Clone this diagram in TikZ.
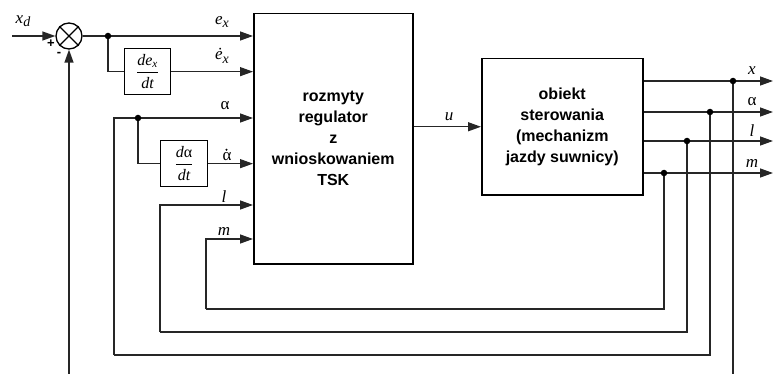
\documentclass[tikz,border=0pt]{standalone}
\usepackage{amsmath}
\usepackage{fontspec}
\setmainfont{Liberation Serif}
\newfontfamily\arialf{Liberation Sans}
\usetikzlibrary{arrows.meta,calc}
\newcommand{\sbs}[1]{\raisebox{-3.5pt}{\fontsize{14}{14}\selectfont\itshape #1}}
\begin{document}
\begin{tikzpicture}[x=1pt,y=-1pt,
  wire/.style={line width=1.3pt, draw=black!85},
  arr/.style={wire,-{Triangle[length=13pt,width=9pt]}},
  blk/.style={draw=black, line width=1.5pt, anchor=north west, inner sep=0pt},
  dblk/.style={draw=black, line width=1.3pt, anchor=north west, inner sep=0pt, font=\fontsize{16}{18}\selectfont\itshape},
  jdot/.style={circle, fill=black, inner sep=0pt, minimum size=6.5pt},
  lbl/.style={font=\fontsize{17}{17}\selectfont\itshape, inner sep=0pt},
  big/.style={font=\arialf\bfseries\fontsize{16}{21}\selectfont, align=center, inner sep=0pt},
  sgn/.style={font=\arialf\bfseries\fontsize{13}{13}\selectfont, inner sep=0pt}
]
\useasboundingbox (0,0) rectangle (773,374);

% blocks
\node[blk, minimum width=159pt, minimum height=250pt] (reg) at (253,13) {};
\node[big] (regtxt) at (reg.center) {rozmyty\\regulator\\z\\wnioskowaniem\\TSK};
\node[blk, minimum width=161pt, minimum height=136pt] (plant) at (481,58) {};
\node[big] (planttxt) at (plant.center) {obiekt\\sterowania\\(mechanizm\\jazdy suwnicy)};
\node[dblk, minimum width=46pt, minimum height=46pt] (d1) at (124,48)
  {$\dfrac{\text{de}_{\text{x}}}{\text{dt}}$};
\node[dblk, minimum width=47pt, minimum height=46pt] (d2) at (160,140)
  {$\dfrac{\text{d\upshape α}}{\text{dt}}$};

% summing junction
\node[circle, draw=black, line width=1.3pt, minimum size=26pt, inner sep=0pt] (sum) at (69,36) {};
\draw[line width=1.3pt] (sum.north west) -- (sum.south east) (sum.north east) -- (sum.south west);
\node[sgn] (plus) at (51,44) {+};
\node[sgn] (minus) at (59,54) {-};

% coordinates
\coordinate (xin) at (12,36);
\coordinate (fb) at (69,374);
\coordinate (j1) at (108,36);
\coordinate (da) at (138,118);
\coordinate (ia) at (253,118);
\coordinate (il) at (253,205);
\coordinate (im) at (253,239);
\coordinate (ba) at (114,355);
\coordinate (bl) at (160,332);
\coordinate (bm) at (206,309);
\coordinate (jx) at (733,81);
\coordinate (ja) at (710,112);
\coordinate (jl) at (687,141);
\coordinate (jm) at (664,173);
\coordinate (tx) at (773,81);
\coordinate (ta) at (773,112);
\coordinate (tl) at (773,141);
\coordinate (tm) at (773,173);
\coordinate (xend) at (733,374);

% input side
\draw[arr] (xin) -- (sum.west);
\draw[arr] (fb) -- (sum.south);
\draw[arr] (sum.east) -- (sum.east -| reg.west);
\draw[wire] (j1) |- (d1.west);
\draw[arr] (d1.east) -- (d1.east -| reg.west);
\draw[wire] (da) |- (d2.west);
\draw[arr] (d2.east) -- (d2.east -| reg.west);

% control signal
\draw[arr] (plant.west -| reg.east) -- (plant.west);

% outputs
\draw[arr] (jx -| plant.east) -- (tx);
\draw[arr] (ja -| plant.east) -- (ta);
\draw[arr] (jl -| plant.east) -- (tl);
\draw[arr] (jm -| plant.east) -- (tm);

% feedback loops
\draw[wire] (jx) -- (xend);
\draw[wire] (ja) |- (ba);
\draw[arr] (ba) |- (ia);
\draw[wire] (jl) |- (bl);
\draw[arr] (bl) |- (il);
\draw[wire] (jm) |- (bm);
\draw[arr] (bm) |- (im);

% junction dots
\foreach \p in {j1,da,jx,ja,jl,jm} \node[jdot] at (\p) {};

% labels
\node[lbl] (lxd) at (23,21) {x\sbs{d}};
\node[lbl] (lex) at (222,22) {e\sbs{x}};
\node[lbl] (ldex) at (222,56) {\.{e}\sbs{x}};
\node[lbl] (lal) at (225,106) {\upshape α};
\node[lbl] (ldal) at (227,157) {\upshape α};
\fill (ldal.north) ++(-0.5,-3) circle (1.2pt);
\node[lbl] (ll) at (224,197) {l};
\node[lbl] (lm) at (224,231) {m};
\node[lbl] (lu) at (449,117) {u};
\node[lbl] (ox) at (752,71) {x};
\node[lbl] (oa) at (752,102) {\upshape α};
\node[lbl] (ol) at (752,131) {l};
\node[lbl] (om) at (752,163) {m};
\end{tikzpicture}
\end{document}
